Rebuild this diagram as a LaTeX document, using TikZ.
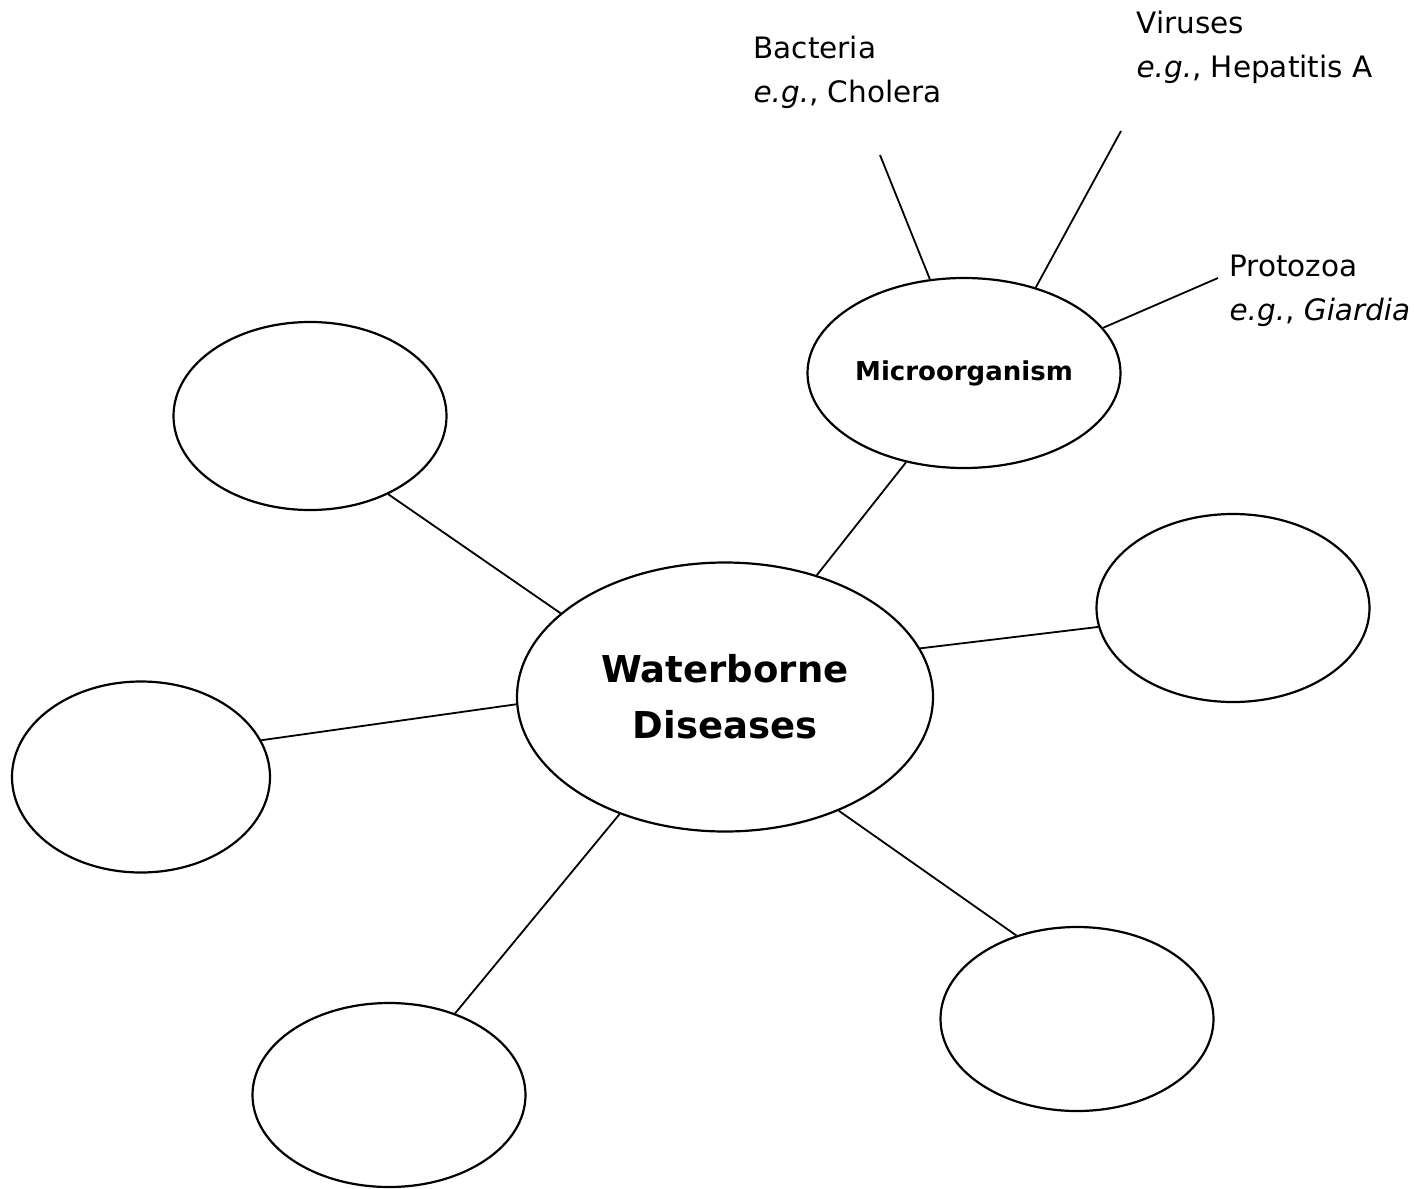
\documentclass[tikz,border=0pt]{standalone}
\usepackage{fontspec}
\setmainfont{DejaVu Sans}
\usetikzlibrary{shapes.geometric}

\begin{document}
\begin{tikzpicture}[x=1pt, y=-1pt,
	bubble/.style={draw, ellipse, line width=2.2pt, inner sep=0pt},
	blank/.style={bubble, minimum width=273pt, minimum height=188pt},
	link/.style={line width=1.8pt},
	note/.style={anchor=base west, align=left, font=\fontsize{29.5}{44}\selectfont}]
	\useasboundingbox (0,0) rectangle (1414,1189);
	% hub and the named branch
	\node[bubble, minimum width=416pt, minimum height=269pt, align=center,
		font=\bfseries\fontsize{37}{56}\selectfont] (water) at (725,697) {Waterborne\\Diseases};
	\node[bubble, minimum width=313pt, minimum height=190pt,
		font=\bfseries\fontsize{26}{30}\selectfont] (micro) at (964,373) {Microorganism};
	% empty bubbles
	\node[blank] (blankNW) at (310,416) {};
	\node[blank] (blankE) at (1233,608) {};
	\node[blank, minimum width=258pt, minimum height=191pt] (blankW) at (141,777) {};
	\node[blank, minimum height=184pt] (blankSW) at (389,1095) {};
	\node[blank, minimum height=184pt] (blankSE) at (1077,1019) {};
	\foreach \a/\b/\c in {53/micro/237, 153/blankNW/315, 182/blankW/17, 14/blankE/188,
		228/blankSW/51, 315/blankSE/126}
		\draw[link] (water.\a) -- (\b.\c);
	% kinds of microorganism
	\node[note] (bact) at (750,102) {Bacteria\\\textit{e.g.}, Cholera};
	\node[note] (vir) at (1133,77) {Viruses\\\textit{e.g.}, Hepatitis A};
	\node[note] (proto) at (1226,320) {Protozoa\\\textit{e.g.}, \textit{Giardia}};
	\coordinate (bactTip) at (880,155);
	\coordinate (virTip) at (1121,131);
	\coordinate (protoTip) at (1218,278);
	\draw[link] (bactTip) -- (micro.110);
	\draw[link] (virTip) -- (micro.50);
	\draw[link] (protoTip) -- (micro.18);
\end{tikzpicture}
\end{document}
